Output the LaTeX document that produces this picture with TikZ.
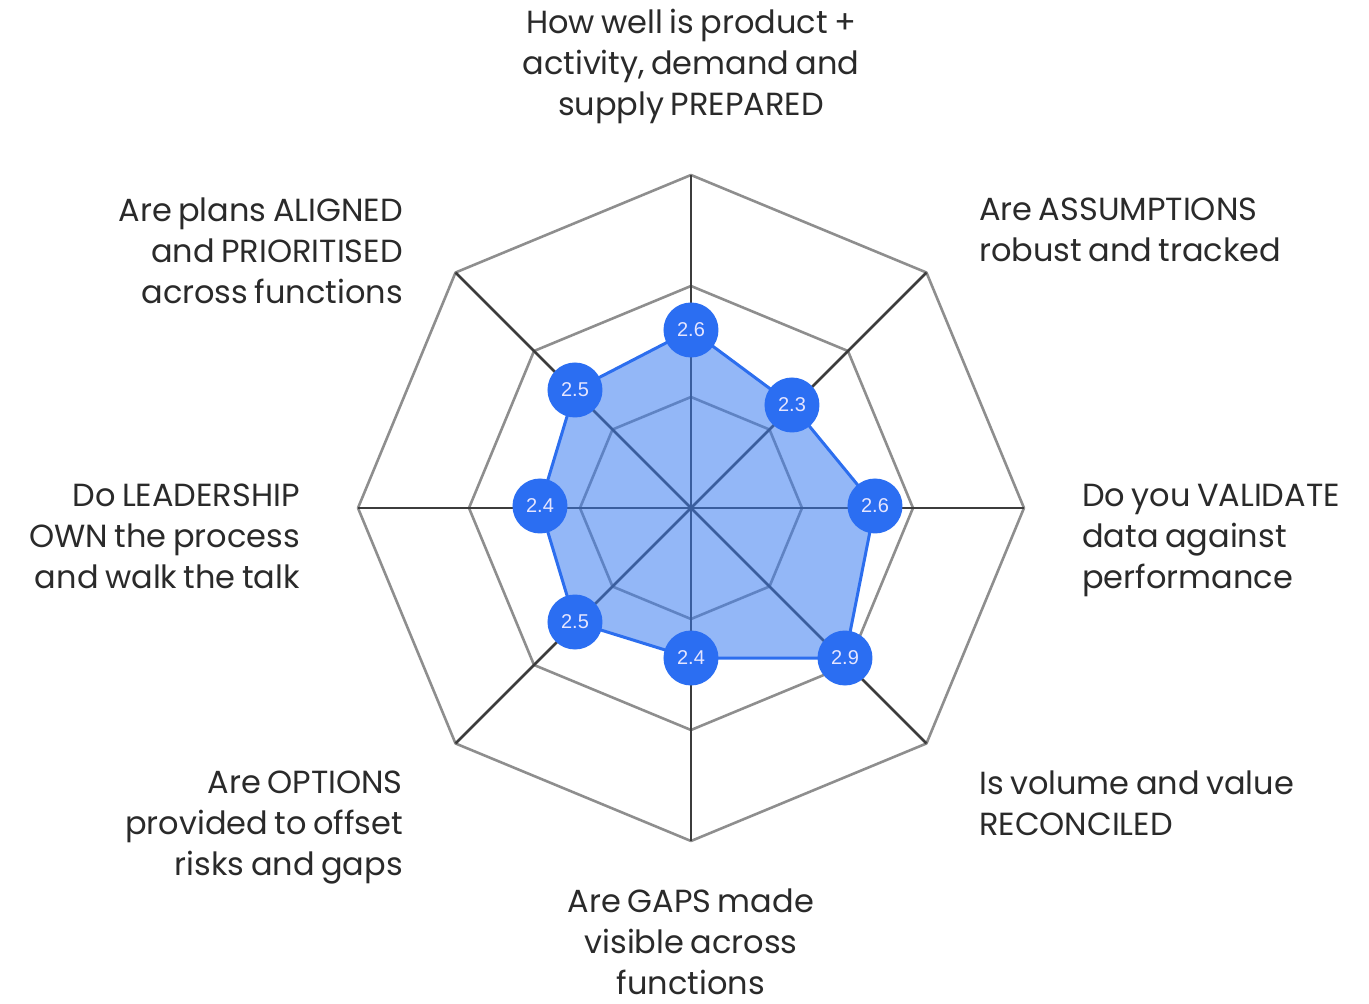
\documentclass[tikz,border=0pt]{standalone}
\usepackage{fontspec}
\setmainfont{Poppins}[WordSpace=0.75]
\newfontfamily\dotfont{Liberation Sans}
\definecolor{ringgray}{HTML}{8E8E8E}
\definecolor{spokegray}{HTML}{3C3C3C}
\definecolor{fillblue}{HTML}{3A7BF0}
\definecolor{edgeblue}{HTML}{2C6EEE}
\definecolor{dotblue}{HTML}{2B6EF2}
\definecolor{txt}{HTML}{2A2A2A}
\begin{document}
\begin{tikzpicture}[x=1pt,y=1pt,
  ring/.style={draw=ringgray,line width=2.6pt,line join=round},
  spoke/.style={draw=spokegray,line width=2.6pt},
  area/.style={fill=fillblue,fill opacity=0.55,draw=edgeblue,draw opacity=1,line width=3pt,line join=round},
  dot/.style={circle,fill=dotblue,minimum size=55pt,inner sep=0pt,text=white!90!blue,font=\dotfont\fontsize{20}{20}\selectfont},
  lab/.style={text=txt,font=\fontsize{32}{41}\selectfont,inner sep=0pt}]
\useasboundingbox (-691,-496) rectangle (678,508);
\coordinate (c) at (0,0);
% rings
\foreach \r in {333,222,111}{
  \draw[ring] (90:\r) -- (45:\r) -- (0:\r) -- (-45:\r) -- (-90:\r) -- (-135:\r) -- (180:\r) -- (135:\r) -- cycle;
}
\foreach \a/\n in {90/t,45/ne,0/e,-45/se,-90/s,-135/sw,180/w,135/nw}{
  \coordinate (v\n) at (\a:333);
  \draw[spoke] (c) -- (v\n);
}
% data points
\coordinate (pt) at (0,178);
\coordinate (pne) at (101,103);
\coordinate (pe) at (184,2);
\coordinate (pse) at (154,-150);
\coordinate (ps) at (0,-150);
\coordinate (psw) at (-116,-114);
\coordinate (pw) at (-151,2);
\coordinate (pnw) at (-116,118);
\draw[area] (pt) -- (pne) -- (pe) -- (pse) -- (ps) -- (psw) -- (pw) -- (pnw) -- cycle;
\node[dot] (dt) at (pt) {2.6};
\node[dot] (dne) at (pne) {2.3};
\node[dot] (de) at (pe) {2.6};
\node[dot] (dse) at (pse) {2.9};
\node[dot] (ds) at (ps) {2.4};
\node[dot] (dsw) at (psw) {2.5};
\node[dot] (dw) at (pw) {2.4};
\node[dot] (dnw) at (pnw) {2.5};
% labels
\node[lab,align=center,anchor=north] (lt) at (0,499) {How well is product +\\activity, demand and\\supply PREPARED};
\node[lab,align=left,anchor=north west] (lne) at (288,310) {Are ASSUMPTIONS\\robust and tracked};
\node[lab,align=left,anchor=north west] (le) at (391,24) {Do you VALIDATE\\data against\\performance};
\node[lab,align=left,anchor=north west] (lse) at (288,-263) {Is volume and value\\RECONCILED};
\node[lab,align=center,anchor=north] (ls) at (0,-381) {Are GAPS made\\visible across\\functions};
\node[lab,align=right,anchor=north east] (lsw) at (-288,-263) {Are OPTIONS\\provided to offset\\risks and gaps};
\node[lab,align=right,anchor=north east] (lw) at (-391,24) {Do LEADERSHIP\\OWN the process\\and walk the talk};
\node[lab,align=right,anchor=north east] (lnw) at (-288,310) {Are plans ALIGNED\\and PRIORITISED\\across functions};
\end{tikzpicture}
\end{document}
